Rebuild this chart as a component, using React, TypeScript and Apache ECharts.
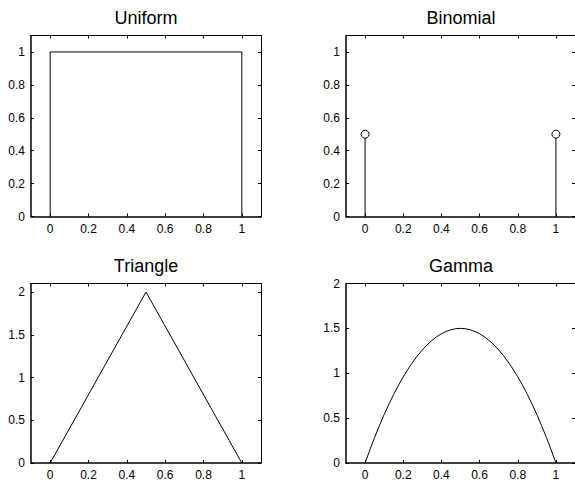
import React, { useEffect, useRef } from "react";
import * as echarts from "echarts";

// Panel titles
const titles = ["Uniform", "Binomial", "Triangle", "Gamma"];

// Uniform density drawn as a box outline
const uniformX = [0, 0, 1, 1];
const uniformY = [0, 1, 1, 0];

// Binomial: stem positions and probabilities
const binomX = [0, 1];
const binomP = [0.5, 0.5];

// Triangle density vertices
const triX = [0, 0.5, 1];
const triY = [0, 2, 0];

// Gamma-panel curve samples
const gammaX = [
  0, 0.025, 0.05, 0.075, 0.1, 0.125, 0.15, 0.175, 0.2, 0.225, 0.25, 0.275, 0.3, 0.325, 0.35, 0.375, 0.4, 0.425, 0.45, 0.475,
  0.5, 0.525, 0.55, 0.575, 0.6, 0.625, 0.65, 0.675, 0.7, 0.725, 0.75, 0.775, 0.8, 0.825, 0.85, 0.875, 0.9, 0.925, 0.95, 0.975, 1,
];
const gammaY = [
  0, 0.146, 0.285, 0.416, 0.54, 0.656, 0.765, 0.866, 0.96, 1.046, 1.125, 1.196, 1.26, 1.316, 1.365, 1.406, 1.44, 1.466, 1.485, 1.496,
  1.5, 1.496, 1.485, 1.466, 1.44, 1.406, 1.365, 1.316, 1.26, 1.196, 1.125, 1.046, 0.96, 0.866, 0.765, 0.656, 0.54, 0.416, 0.285, 0.146, 0,
];

// Tick labels
const xTicks = [0, 0.2, 0.4, 0.6, 0.8, 1];
const yTicksTop = [0, 0.2, 0.4, 0.6, 0.8, 1];
const yTicksBottom = [0, 0.5, 1, 1.5, 2];

const FONT = "Liberation Sans, Arial, Helvetica, sans-serif";

const zip = (xs: number[], ys: number[]) => xs.map((x, i) => [x, ys[i]]);

export default function App() {
  const ref = useRef<HTMLDivElement>(null);

  useEffect(() => {
    if (!ref.current) return;
    const chart = echarts.init(ref.current, null, { renderer: "svg" });

    const grids = [
      { left: 31, top: 35.5, width: 230, height: 181 },
      { left: 346, top: 35.5, width: 230, height: 181 },
      { left: 31, top: 283.5, width: 230, height: 180.5 },
      { left: 346, top: 283.5, width: 230, height: 180.5 },
    ];
    const yMax = [1.1, 1.1, 2.1, 2];
    const yTicks = [yTicksTop, yTicksTop, yTicksBottom, yTicksBottom];

    const labelStyle = {
      color: "#000",
      fontFamily: FONT,
      fontSize: 12,
      margin: 6,
      formatter: (v: number) => String(+v.toFixed(2)),
    };

    const xAxis: any[] = [];
    const yAxis: any[] = [];
    grids.forEach((_, g) => {
      // bottom axis with labels
      xAxis.push({
        type: "value",
        gridIndex: g,
        position: "bottom",
        min: -0.1,
        max: 1.1,
        axisLine: { show: true, onZero: false, lineStyle: { color: "#000", width: 1.5 } },
        axisTick: { show: true, inside: true, length: 3, customValues: xTicks, lineStyle: { color: "#000" } },
        axisLabel: { show: true, customValues: xTicks, ...labelStyle },
        splitLine: { show: false },
      });
      // top border with ticks
      xAxis.push({
        type: "value",
        gridIndex: g,
        position: "top",
        min: -0.1,
        max: 1.1,
        axisLine: { show: true, onZero: false, lineStyle: { color: "#000", width: 1 } },
        axisTick: { show: true, inside: true, length: 3, customValues: xTicks, lineStyle: { color: "#000" } },
        axisLabel: { show: false },
        splitLine: { show: false },
      });
      // left axis with labels
      yAxis.push({
        type: "value",
        gridIndex: g,
        position: "left",
        min: 0,
        max: yMax[g],
        axisLine: { show: true, onZero: false, lineStyle: { color: "#000", width: 1.5 } },
        axisTick: { show: true, inside: true, length: 3, customValues: yTicks[g], lineStyle: { color: "#000" } },
        axisLabel: { show: true, customValues: yTicks[g], ...labelStyle },
        splitLine: { show: false },
      });
      // right border with ticks
      yAxis.push({
        type: "value",
        gridIndex: g,
        position: "right",
        min: 0,
        max: yMax[g],
        axisLine: { show: true, onZero: false, lineStyle: { color: "#000", width: 1 } },
        axisTick: { show: true, inside: true, length: 3, customValues: yTicks[g], lineStyle: { color: "#000" } },
        axisLabel: { show: false },
        splitLine: { show: false },
      });
    });

    const lineStyle = { color: "#000", width: 1 };
    const base = (g: number) => ({
      xAxisIndex: g * 2,
      yAxisIndex: g * 2,
      showSymbol: false,
      symbol: "none",
      lineStyle,
      itemStyle: { color: "#000" },
      silent: true,
    });

    const series: any[] = [
      { type: "line", ...base(0), data: zip(uniformX, uniformY) },
      ...binomX.map((x, i) => ({
        type: "line",
        ...base(1),
        data: [
          [x, 0],
          [x, binomP[i]],
        ],
      })),
      {
        type: "scatter",
        xAxisIndex: 2,
        yAxisIndex: 2,
        symbol: "circle",
        symbolSize: 8,
        z: 5,
        itemStyle: { color: "#fff", borderColor: "#000", borderWidth: 1, opacity: 1 },
        data: zip(binomX, binomP),
        silent: true,
      },
      { type: "line", ...base(2), data: zip(triX, triY) },
      { type: "line", ...base(3), data: zip(gammaX, gammaY) },
    ];

    const graphic = grids.map((gr, i) => ({
      type: "text",
      x: gr.left + gr.width / 2,
      y: gr.top - 18,
      style: {
        text: titles[i],
        fill: "#000",
        font: `18px ${FONT}`,
        align: "center",
        verticalAlign: "middle",
      },
    }));

    chart.setOption({
      animation: false,
      backgroundColor: "#fff",
      grid: grids.map((g) => ({ ...g, containLabel: false })),
      xAxis,
      yAxis,
      series,
      graphic,
    });

    return () => chart.dispose();
  }, []);

  return (
    <div
      ref={ref}
      style={{ position: "fixed", left: 0, top: 0, width: 575, height: 481, background: "#fff" }}
    />
  );
}
